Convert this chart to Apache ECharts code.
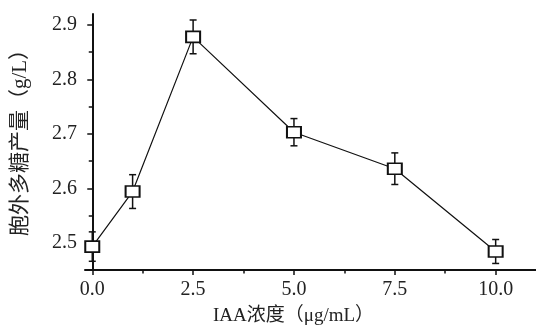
<!DOCTYPE html>
<html><head><meta charset="utf-8">
<script src="https://cdn.jsdelivr.net/npm/echarts@6/dist/echarts.min.js"></script>
<style>html,body{margin:0;padding:0;background:#fff}#c{width:536px;height:331px}</style>
</head><body><div id="c"></div>
<script>
var concentrations = [0, 1, 2.5, 5, 7.5, 10];
var yields = [2.493, 2.594, 2.878, 2.703, 2.636, 2.484];
var errors = [0.027, 0.031, 0.031, 0.025, 0.029, 0.022];
var xMajorTicks = [0, 2.5, 5, 7.5, 10];
var xMinorTicks = [1.25, 3.75, 6.25, 8.75];
var yMajorTicks = [2.5, 2.6, 2.7, 2.8, 2.9];
var yMinorTicks = [2.55, 2.65, 2.75, 2.85];

var FONT = '"Liberation Serif", "Noto Sans CJK SC", serif';
var points = concentrations.map(function (x, i) { return [x, yields[i]]; });
var errData = concentrations.map(function (x, i) { return [x, yields[i] - errors[i], yields[i] + errors[i]]; });

var chart = echarts.init(document.getElementById('c'));
var axisLine = { show: true, lineStyle: { color: '#111', width: 2 } };
chart.setOption({
  animation: false,
  grid: { left: 85, right: 0, top: 14, bottom: 59, containLabel: false },
  xAxis: [{
    type: 'value', min: -0.18, max: 11,
    name: 'IAA浓度（μg/mL）', nameLocation: 'middle', nameGap: 37,
    nameTextStyle: { fontFamily: FONT, fontSize: 19, color: '#222', padding: [0, 34, 0, 0] },
    axisLine: axisLine,
    axisTick: { show: true, inside: false, length: 5, lineStyle: { color: '#111', width: 1.5 }, customValues: xMajorTicks },
    axisLabel: { customValues: xMajorTicks, formatter: function (v) { return v.toFixed(1); }, fontFamily: FONT, fontSize: 20, color: '#222', margin: 10 },
    splitLine: { show: false }
  }, {
    type: 'value', min: -0.18, max: 11, position: 'bottom',
    axisLine: { show: false },
    axisTick: { show: true, length: 3.5, lineStyle: { color: '#111', width: 1.5 }, customValues: xMinorTicks },
    axisLabel: { show: false }, splitLine: { show: false }
  }],
  yAxis: [{
    type: 'value', min: 2.45, max: 2.92,
    name: '胞外多糖产量（g/L）', nameLocation: 'middle', nameGap: 54, nameRotate: 90,
    nameTextStyle: { fontFamily: FONT, fontSize: 21, color: '#222', padding: [0, 0, 0, 9] },
    axisLine: axisLine,
    axisTick: { show: true, length: 5, lineStyle: { color: '#111', width: 1.5 }, customValues: yMajorTicks },
    axisLabel: { customValues: yMajorTicks, formatter: function (v) { return v.toFixed(1); }, fontFamily: FONT, fontSize: 20, color: '#222', margin: 8 },
    splitLine: { show: false }
  }, {
    type: 'value', min: 2.45, max: 2.92, position: 'left',
    axisLine: { show: false },
    axisTick: { show: true, length: 3.5, lineStyle: { color: '#111', width: 1.5 }, customValues: yMinorTicks },
    axisLabel: { show: false }, splitLine: { show: false }
  }],
  series: [{
    type: 'custom', z: 1,
    data: errData,
    renderItem: function (params, api) {
      var lo = api.coord([api.value(0), api.value(1)]);
      var hi = api.coord([api.value(0), api.value(2)]);
      var w = 3.5;
      var st = { stroke: '#111', lineWidth: 1.5 };
      return { type: 'group', children: [
        { type: 'line', shape: { x1: lo[0], y1: lo[1], x2: hi[0], y2: hi[1] }, style: st },
        { type: 'line', shape: { x1: lo[0] - w, y1: lo[1], x2: lo[0] + w, y2: lo[1] }, style: st },
        { type: 'line', shape: { x1: hi[0] - w, y1: hi[1], x2: hi[0] + w, y2: hi[1] }, style: st }
      ] };
    }
  }, {
    type: 'line', z: 3,
    data: points,
    symbol: 'rect', symbolSize: [14, 11],
    lineStyle: { color: '#111', width: 1.2 },
    itemStyle: { color: '#fff', borderColor: '#111', borderWidth: 1.8 }
  }]
});
</script></body></html>
